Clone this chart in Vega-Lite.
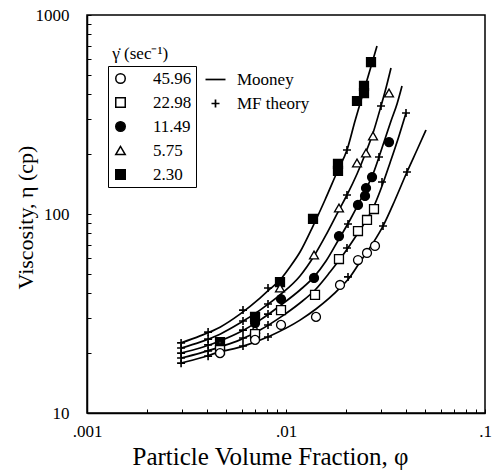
{
  "$schema": "https://vega.github.io/schema/vega-lite/v6.json",
  "width": 398,
  "height": 398,
  "autosize": "none",
  "padding": {"left": 87, "top": 15, "right": 15, "bottom": 60},
  "background": "white",
  "config": {
    "font": "Liberation Serif",
    "view": {"stroke": "black", "strokeWidth": 1.5},
    "axis": {"domainColor": "black", "domainWidth": 1.5, "tickColor": "black", "tickWidth": 1, "labelColor": "black", "titleColor": "black", "labelFont": "Liberation Serif", "titleFont": "Liberation Serif", "titleFontWeight": "normal", "grid": false}
  },
  "datasets": {
    "mooney": [
      {"rate": "2.30", "phi": 0.00297, "eta": 22.5}, {"rate": "2.30", "phi": 0.00370, "eta": 24.4}, {"rate": "2.30", "phi": 0.00466, "eta": 27.0}, {"rate": "2.30", "phi": 0.00587, "eta": 31.4}, {"rate": "2.30", "phi": 0.00740, "eta": 37.8}, {"rate": "2.30", "phi": 0.00831, "eta": 42.0}, {"rate": "2.30", "phi": 0.00933, "eta": 46.6}, {"rate": "2.30", "phi": 0.01047, "eta": 54.2}, {"rate": "2.30", "phi": 0.01176, "eta": 64.4}, {"rate": "2.30", "phi": 0.01367, "eta": 87.0}, {"rate": "2.30", "phi": 0.01570, "eta": 117.6}, {"rate": "2.30", "phi": 0.01825, "eta": 166.4}, {"rate": "2.30", "phi": 0.02025, "eta": 209.7}, {"rate": "2.30", "phi": 0.02222, "eta": 293.3}, {"rate": "2.30", "phi": 0.02409, "eta": 387.1}, {"rate": "2.30", "phi": 0.02643, "eta": 529.1}, {"rate": "2.30", "phi": 0.02866, "eta": 698.7},
      {"rate": "5.75", "phi": 0.00297, "eta": 21.2}, {"rate": "5.75", "phi": 0.00370, "eta": 22.7}, {"rate": "5.75", "phi": 0.00466, "eta": 24.9}, {"rate": "5.75", "phi": 0.00587, "eta": 28.3}, {"rate": "5.75", "phi": 0.00740, "eta": 32.9}, {"rate": "5.75", "phi": 0.00933, "eta": 39.2}, {"rate": "5.75", "phi": 0.01176, "eta": 48.8}, {"rate": "5.75", "phi": 0.01383, "eta": 61.5}, {"rate": "5.75", "phi": 0.01589, "eta": 78.5}, {"rate": "5.75", "phi": 0.01846, "eta": 104.7}, {"rate": "5.75", "phi": 0.02025, "eta": 124.6}, {"rate": "5.75", "phi": 0.02274, "eta": 158.9}, {"rate": "5.75", "phi": 0.02524, "eta": 204.9}, {"rate": "5.75", "phi": 0.02737, "eta": 255.3}, {"rate": "5.75", "phi": 0.03002, "eta": 348.9}, {"rate": "5.75", "phi": 0.03181, "eta": 429.8}, {"rate": "5.75", "phi": 0.03370, "eta": 541.6},
      {"rate": "11.49", "phi": 0.00297, "eta": 20.0}, {"rate": "11.49", "phi": 0.00370, "eta": 21.2}, {"rate": "11.49", "phi": 0.00466, "eta": 23.0}, {"rate": "11.49", "phi": 0.00587, "eta": 25.5}, {"rate": "11.49", "phi": 0.00740, "eta": 29.3}, {"rate": "11.49", "phi": 0.00944, "eta": 34.9}, {"rate": "11.49", "phi": 0.01176, "eta": 41.5}, {"rate": "11.49", "phi": 0.01383, "eta": 48.3}, {"rate": "11.49", "phi": 0.01589, "eta": 58.0}, {"rate": "11.49", "phi": 0.01846, "eta": 74.9}, {"rate": "11.49", "phi": 0.02097, "eta": 93.3}, {"rate": "11.49", "phi": 0.02300, "eta": 111.0}, {"rate": "11.49", "phi": 0.02524, "eta": 133.6}, {"rate": "11.49", "phi": 0.02737, "eta": 158.9}, {"rate": "11.49", "phi": 0.02933, "eta": 193.4}, {"rate": "11.49", "phi": 0.03144, "eta": 238.2}, {"rate": "11.49", "phi": 0.03370, "eta": 293.3}, {"rate": "11.49", "phi": 0.03613, "eta": 357.1}, {"rate": "11.49", "phi": 0.03828, "eta": 439.8},
      {"rate": "22.98", "phi": 0.00297, "eta": 18.9}, {"rate": "22.98", "phi": 0.00370, "eta": 20.0}, {"rate": "22.98", "phi": 0.00466, "eta": 21.5}, {"rate": "22.98", "phi": 0.00587, "eta": 23.3}, {"rate": "22.98", "phi": 0.00740, "eta": 26.1}, {"rate": "22.98", "phi": 0.00944, "eta": 30.4}, {"rate": "22.98", "phi": 0.01176, "eta": 35.7}, {"rate": "22.98", "phi": 0.01399, "eta": 41.5}, {"rate": "22.98", "phi": 0.01664, "eta": 51.1}, {"rate": "22.98", "phi": 0.01868, "eta": 59.4}, {"rate": "22.98", "phi": 0.02097, "eta": 69.9}, {"rate": "22.98", "phi": 0.02300, "eta": 80.3}, {"rate": "22.98", "phi": 0.02553, "eta": 94.4}, {"rate": "22.98", "phi": 0.02768, "eta": 109.7}, {"rate": "22.98", "phi": 0.03037, "eta": 138.3}, {"rate": "22.98", "phi": 0.03331, "eta": 180.5}, {"rate": "22.98", "phi": 0.03655, "eta": 238.2}, {"rate": "22.98", "phi": 0.04009, "eta": 321.8},
      {"rate": "45.96", "phi": 0.00297, "eta": 17.8}, {"rate": "45.96", "phi": 0.00370, "eta": 18.9}, {"rate": "45.96", "phi": 0.00466, "eta": 20.3}, {"rate": "45.96", "phi": 0.00594, "eta": 21.5}, {"rate": "45.96", "phi": 0.00831, "eta": 24.4}, {"rate": "45.96", "phi": 0.01176, "eta": 29.3}, {"rate": "45.96", "phi": 0.01415, "eta": 33.3}, {"rate": "45.96", "phi": 0.01868, "eta": 42.5}, {"rate": "45.96", "phi": 0.02097, "eta": 48.3}, {"rate": "45.96", "phi": 0.02354, "eta": 57.4}, {"rate": "45.96", "phi": 0.02737, "eta": 71.5}, {"rate": "45.96", "phi": 0.03072, "eta": 87.0}, {"rate": "45.96", "phi": 0.03530, "eta": 117.6}, {"rate": "45.96", "phi": 0.04055, "eta": 162.6}, {"rate": "45.96", "phi": 0.04553, "eta": 209.7}, {"rate": "45.96", "phi": 0.05053, "eta": 264.3}
    ],
    "mf": [
      {"rate": "2.30", "phi": 0.00297, "eta": 22.5}, {"rate": "2.30", "phi": 0.00406, "eta": 25.5}, {"rate": "2.30", "phi": 0.00608, "eta": 32.9}, {"rate": "2.30", "phi": 0.00812, "eta": 42.5}, {"rate": "2.30", "phi": 0.02025, "eta": 209.7},
      {"rate": "5.75", "phi": 0.00297, "eta": 21.2}, {"rate": "5.75", "phi": 0.00406, "eta": 23.5}, {"rate": "5.75", "phi": 0.00608, "eta": 29.0}, {"rate": "5.75", "phi": 0.00812, "eta": 35.3}, {"rate": "5.75", "phi": 0.02025, "eta": 124.6}, {"rate": "5.75", "phi": 0.03002, "eta": 348.9},
      {"rate": "11.49", "phi": 0.00297, "eta": 20.0}, {"rate": "11.49", "phi": 0.00406, "eta": 22.0}, {"rate": "11.49", "phi": 0.00608, "eta": 26.1}, {"rate": "11.49", "phi": 0.00812, "eta": 31.4}, {"rate": "11.49", "phi": 0.02049, "eta": 89.1}, {"rate": "11.49", "phi": 0.02933, "eta": 193.4},
      {"rate": "22.98", "phi": 0.00297, "eta": 18.9}, {"rate": "22.98", "phi": 0.00406, "eta": 20.5}, {"rate": "22.98", "phi": 0.00608, "eta": 23.8}, {"rate": "22.98", "phi": 0.00812, "eta": 27.7}, {"rate": "22.98", "phi": 0.02025, "eta": 67.5}, {"rate": "22.98", "phi": 0.03037, "eta": 144.8}, {"rate": "22.98", "phi": 0.04009, "eta": 321.8},
      {"rate": "45.96", "phi": 0.00297, "eta": 17.8}, {"rate": "45.96", "phi": 0.00406, "eta": 19.3}, {"rate": "45.96", "phi": 0.00608, "eta": 21.7}, {"rate": "45.96", "phi": 0.00812, "eta": 24.1}, {"rate": "45.96", "phi": 0.02049, "eta": 48.3}, {"rate": "45.96", "phi": 0.03072, "eta": 87.0}, {"rate": "45.96", "phi": 0.04055, "eta": 162.6}
    ],
    "exp": [
      {"rate": "2.30", "phi": 0.00466, "eta": 22.7}, {"rate": "2.30", "phi": 0.00699, "eta": 30.4}, {"rate": "2.30", "phi": 0.00933, "eta": 45.5}, {"rate": "2.30", "phi": 0.01367, "eta": 94.4}, {"rate": "2.30", "phi": 0.01825, "eta": 178.4}, {"rate": "2.30", "phi": 0.01825, "eta": 164.5}, {"rate": "2.30", "phi": 0.02274, "eta": 369.7}, {"rate": "2.30", "phi": 0.02466, "eta": 439.8}, {"rate": "2.30", "phi": 0.02466, "eta": 405.5}, {"rate": "2.30", "phi": 0.02674, "eta": 580.4},
      {"rate": "5.75", "phi": 0.00466, "eta": 22.0}, {"rate": "5.75", "phi": 0.00699, "eta": 26.4}, {"rate": "5.75", "phi": 0.00933, "eta": 42.5}, {"rate": "5.75", "phi": 0.01383, "eta": 62.2}, {"rate": "5.75", "phi": 0.01846, "eta": 107.2}, {"rate": "5.75", "phi": 0.02274, "eta": 180.5}, {"rate": "5.75", "phi": 0.02524, "eta": 202.5}, {"rate": "5.75", "phi": 0.02737, "eta": 246.6}, {"rate": "5.75", "phi": 0.03293, "eta": 405.5},
      {"rate": "11.49", "phi": 0.00466, "eta": 21.2}, {"rate": "11.49", "phi": 0.00699, "eta": 28.3}, {"rate": "11.49", "phi": 0.00944, "eta": 37.4}, {"rate": "11.49", "phi": 0.01383, "eta": 47.7}, {"rate": "11.49", "phi": 0.01846, "eta": 77.5}, {"rate": "11.49", "phi": 0.02300, "eta": 111.0}, {"rate": "11.49", "phi": 0.02524, "eta": 135.1}, {"rate": "11.49", "phi": 0.02495, "eta": 123.2}, {"rate": "11.49", "phi": 0.02706, "eta": 153.4}, {"rate": "11.49", "phi": 0.03293, "eta": 230.0},
      {"rate": "22.98", "phi": 0.00466, "eta": 20.7}, {"rate": "22.98", "phi": 0.00699, "eta": 24.9}, {"rate": "22.98", "phi": 0.00944, "eta": 32.9}, {"rate": "22.98", "phi": 0.01399, "eta": 39.2}, {"rate": "22.98", "phi": 0.01846, "eta": 59.4}, {"rate": "22.98", "phi": 0.02300, "eta": 82.1}, {"rate": "22.98", "phi": 0.02553, "eta": 93.3}, {"rate": "22.98", "phi": 0.02768, "eta": 105.9},
      {"rate": "45.96", "phi": 0.00466, "eta": 20.0}, {"rate": "45.96", "phi": 0.00699, "eta": 23.3}, {"rate": "45.96", "phi": 0.00944, "eta": 27.7}, {"rate": "45.96", "phi": 0.01415, "eta": 30.4}, {"rate": "45.96", "phi": 0.01868, "eta": 44.0}, {"rate": "45.96", "phi": 0.02300, "eta": 58.7}, {"rate": "45.96", "phi": 0.02553, "eta": 63.7}, {"rate": "45.96", "phi": 0.02800, "eta": 69.1}
    ]
  },
  "layer": [
    {
      "data": {"name": "mooney"},
      "mark": {"type": "line", "interpolate": "monotone", "strokeWidth": 1.7, "clip": true},
      "encoding": {
        "x": {
          "field": "phi", "type": "quantitative",
          "scale": {"type": "log", "domain": [0.001, 0.1], "nice": false},
          "axis": {
            "title": "Particle Volume Fraction, φ",
            "titleFontSize": 25, "titleX": 183, "titleY": 43, "titleAlign": "center", "titleBaseline": "middle",
            "values": [0.001, 0.002, 0.003, 0.004, 0.005, 0.006, 0.007, 0.008, 0.009, 0.01, 0.02, 0.03, 0.04, 0.05, 0.06, 0.07, 0.08, 0.09, 0.1],
            "labelExpr": "datum.value == 0.001 ? '.001' : datum.value == 0.01 ? '.01' : datum.value == 0.1 ? '.1' : ''",
            "labelFontSize": 17, "labelPadding": 14, "tickSize": -4, "labelOverlap": false, "labelFlush": false, "labelBound": false
          }
        },
        "y": {
          "field": "eta", "type": "quantitative",
          "scale": {"type": "log", "domain": [10, 1000], "nice": false},
          "axis": {
            "title": "Viscosity, η (cp)",
            "titleFontSize": 22, "titleX": -62, "titleY": 202, "titleAlign": "center", "titleBaseline": "middle", "titleAngle": -90,
            "values": [10, 20, 30, 40, 50, 60, 70, 80, 90, 100, 200, 300, 400, 500, 600, 700, 800, 900, 1000],
            "labelExpr": "datum.value == 10 ? '10' : datum.value == 100 ? '100' : datum.value == 1000 ? '1000' : ''",
            "labelFontSize": 17, "labelPadding": 22, "tickSize": -4, "labelOverlap": false, "labelFlush": false, "labelBound": false
          }
        },
        "detail": {"field": "rate"},
        "color": {
          "datum": "Mooney", "type": "nominal",
          "scale": {"domain": ["Mooney", "MF theory"], "range": ["black", "black"]},
          "legend": {
            "orient": "none", "legendX": 120, "legendY": 56, "title": null,
            "labelFont": "Liberation Serif", "labelFontSize": 17, "labelColor": "black",
            "labelOffset": 13, "rowPadding": 6, "padding": 0,
            "encode": {"symbols": {"update": {
              "shape": {"signal": "datum.value === 'Mooney' ? 'stroke' : 'M-1,0H1M0,-1V1'"},
              "size": {"signal": "datum.value === 'Mooney' ? 400 : 64"},
              "stroke": {"value": "black"},
              "strokeWidth": {"value": 1.7},
              "fill": {"value": "transparent"}
            }}}
          }
        }
      }
    },
    {
      "data": {"name": "mf"},
      "mark": {"type": "point", "shape": "M-1,0H1M0,-1V1", "size": 64, "strokeWidth": 1.6, "filled": false, "opacity": 1},
      "encoding": {
        "x": {"field": "phi", "type": "quantitative"},
        "y": {"field": "eta", "type": "quantitative"},
        "color": {"datum": "MF theory", "type": "nominal"}
      }
    },
    {
      "data": {"name": "exp"},
      "mark": {"type": "point", "filled": true, "stroke": "black", "strokeWidth": 1.3, "size": 80, "opacity": 1},
      "encoding": {
        "x": {"field": "phi", "type": "quantitative"},
        "y": {"field": "eta", "type": "quantitative"},
        "shape": {
          "field": "rate", "type": "nominal",
          "scale": {"domain": ["45.96", "22.98", "11.49", "5.75", "2.30"], "range": ["circle", "square", "circle", "triangle-up", "square"]},
          "legend": {
            "orient": "none", "legendX": 21, "legendY": 51, "title": null,
            "strokeColor": "black", "padding": 4,
            "labelFont": "Liberation Serif", "labelFontSize": 17, "labelColor": "black",
            "labelOffset": 24, "rowPadding": 6, "symbolSize": 90,
            "encode": {"symbols": {"update": {"stroke": {"value": "black"}, "strokeWidth": {"value": 1.3}}}}
          }
        },
        "fill": {
          "field": "rate", "type": "nominal",
          "scale": {"domain": ["45.96", "22.98", "11.49", "5.75", "2.30"], "range": ["white", "white", "black", "white", "black"]},
          "legend": {
            "orient": "none", "legendX": 21, "legendY": 51, "title": null,
            "strokeColor": "black", "padding": 4,
            "labelFont": "Liberation Serif", "labelFontSize": 17, "labelColor": "black",
            "labelOffset": 24, "rowPadding": 6, "symbolSize": 90,
            "encode": {"symbols": {"update": {"stroke": {"value": "black"}, "strokeWidth": {"value": 1.3}}}}
          }
        }
      }
    },
    {
      "data": {"values": [{"label": "γ̇ (sec⁻¹)"}]},
      "mark": {"type": "text", "align": "left", "baseline": "middle", "font": "Liberation Serif", "fontSize": 17, "color": "black"},
      "encoding": {
        "text": {"field": "label", "type": "nominal"},
        "x": {"datum": 0.00134, "type": "quantitative"},
        "y": {"datum": 640, "type": "quantitative"}
      }
    }
  ]
}
